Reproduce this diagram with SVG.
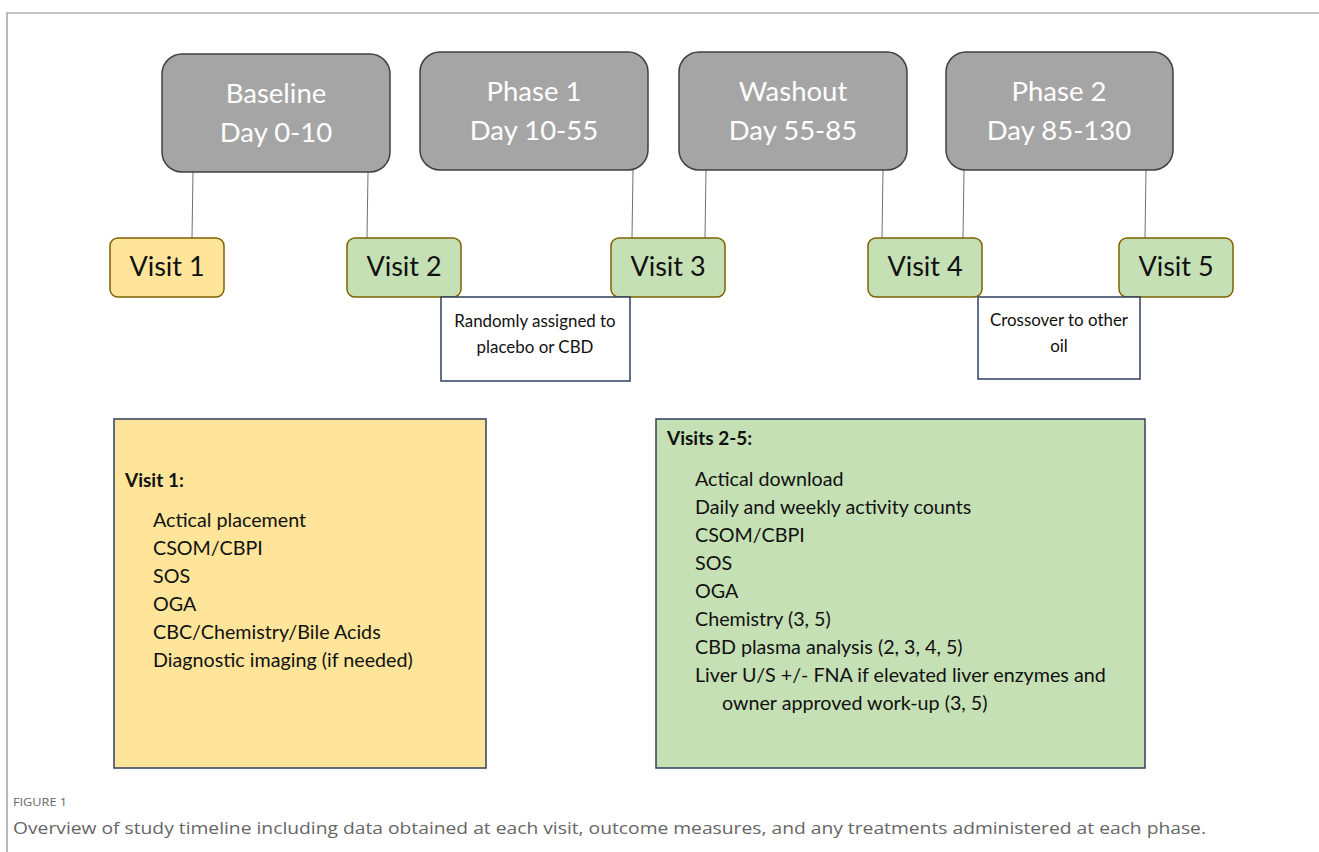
<svg xmlns="http://www.w3.org/2000/svg" width="1319" height="852" viewBox="0 0 1319 852">
<style>
.phase{fill:#a5a5a5;stroke:#404040;stroke-width:1.5}
.pt{font-family:Lato,"Liberation Sans",sans-serif;font-size:27.5px;fill:#ffffff;text-anchor:middle}
.vy{fill:#fee599;stroke:#7f6000;stroke-width:1.5}
.vg{fill:#c5e0b4;stroke:#7f6000;stroke-width:1.5}
.vt{font-family:Lato,"Liberation Sans",sans-serif;font-size:27px;fill:#111111;text-anchor:middle}
.note{fill:#ffffff;stroke:#2f3f5f;stroke-width:1.5}
.nt{font-family:Lato,"Liberation Sans",sans-serif;font-size:16.9px;fill:#111111;text-anchor:middle}
.big{stroke:#2f3f5f;stroke-width:1.5}
.h{font-family:Lato,"Liberation Sans",sans-serif;font-size:19px;font-weight:bold;fill:#111111}
.li{font-family:Lato,"Liberation Sans",sans-serif;font-size:19.7px;fill:#111111}
.conn line{stroke:#707070;stroke-width:1}
</style>
<rect width="1319" height="852" fill="#ffffff"/>
<path d="M7 852 V13 H1319" fill="none" stroke="#8a8a8a" stroke-width="1.2"/>
<g class="conn">
<line x1="193" y1="172" x2="192" y2="238"/>
<line x1="368" y1="172" x2="367" y2="238"/>
<line x1="633" y1="170" x2="632" y2="238"/>
<line x1="706" y1="170" x2="705" y2="238"/>
<line x1="883" y1="170" x2="882" y2="238"/>
<line x1="964" y1="170" x2="963" y2="238"/>
<line x1="1146" y1="170" x2="1145" y2="238"/>
</g>
<g id="baseline"><rect class="phase" x="162" y="54" width="228" height="118" rx="20"/><text class="pt" x="276" y="103">Baseline</text><text class="pt" x="276" y="142">Day 0-10</text></g>
<g id="phase1"><rect class="phase" x="420" y="52" width="228" height="118" rx="20"/><text class="pt" x="534" y="101">Phase 1</text><text class="pt" x="534" y="140">Day 10-55</text></g>
<g id="washout"><rect class="phase" x="679" y="52" width="228" height="118" rx="20"/><text class="pt" x="793" y="101">Washout</text><text class="pt" x="793" y="140">Day 55-85</text></g>
<g id="phase2"><rect class="phase" x="946" y="52" width="227" height="118" rx="20"/><text class="pt" x="1059" y="101">Phase 2</text><text class="pt" x="1059" y="140">Day 85-130</text></g>
<g id="visit1"><rect class="vy" x="110" y="238" width="114" height="59" rx="8"/><text class="vt" x="167" y="276">Visit 1</text></g>
<g id="visit2"><rect class="vg" x="347" y="238" width="114" height="59" rx="8"/><text class="vt" x="404" y="276">Visit 2</text></g>
<g id="visit3"><rect class="vg" x="611" y="238" width="114" height="59" rx="8"/><text class="vt" x="668" y="276">Visit 3</text></g>
<g id="visit4"><rect class="vg" x="868" y="238" width="114" height="59" rx="8"/><text class="vt" x="925" y="276">Visit 4</text></g>
<g id="visit5"><rect class="vg" x="1119" y="238" width="114" height="59" rx="8"/><text class="vt" x="1176" y="276">Visit 5</text></g>
<g id="random"><rect class="note" x="441" y="297" width="189" height="84"/><text class="nt" x="535" y="327">Randomly assigned to</text><text class="nt" x="535" y="353">placebo or CBD</text></g>
<g id="crossover"><rect class="note" x="978" y="297" width="162" height="82"/><text class="nt" x="1059" y="326">Crossover to other</text><text class="nt" x="1059" y="352">oil</text></g>
<g id="visit1-details"><rect class="big" fill="#fee599" x="114" y="419" width="372" height="349"/>
<text class="h" x="125" y="487">Visit 1:</text>
<text class="li" x="153" y="527">Actical placement</text>
<text class="li" x="153" y="555">CSOM/CBPI</text>
<text class="li" x="153" y="583">SOS</text>
<text class="li" x="153" y="611">OGA</text>
<text class="li" x="153" y="639">CBC/Chemistry/Bile Acids</text>
<text class="li" x="153" y="667">Diagnostic imaging (if needed)</text>
</g>
<g id="visits2-5-details"><rect class="big" fill="#c5e0b4" x="656" y="419" width="489" height="349"/>
<text class="h" x="667" y="445">Visits 2-5:</text>
<text class="li" x="695" y="486">Actical download</text>
<text class="li" x="695" y="514">Daily and weekly activity counts</text>
<text class="li" x="695" y="542">CSOM/CBPI</text>
<text class="li" x="695" y="570">SOS</text>
<text class="li" x="695" y="598">OGA</text>
<text class="li" x="695" y="626">Chemistry (3, 5)</text>
<text class="li" x="695" y="654">CBD plasma analysis (2, 3, 4, 5)</text>
<text class="li" x="695" y="682">Liver U/S +/- FNA if elevated liver enzymes and</text>
<text class="li" x="722" y="710">owner approved work-up (3, 5)</text>
</g>
<text x="13" y="806" font-family="'Open Sans','Liberation Sans',sans-serif" font-size="11" fill="#666666" textLength="54" lengthAdjust="spacingAndGlyphs">FIGURE 1</text>
<text x="13" y="834" font-family="'Open Sans','Liberation Sans',sans-serif" font-size="17" fill="#666666" textLength="1193" lengthAdjust="spacingAndGlyphs">Overview of study timeline including data obtained at each visit, outcome measures, and any treatments administered at each phase.</text>
</svg>
